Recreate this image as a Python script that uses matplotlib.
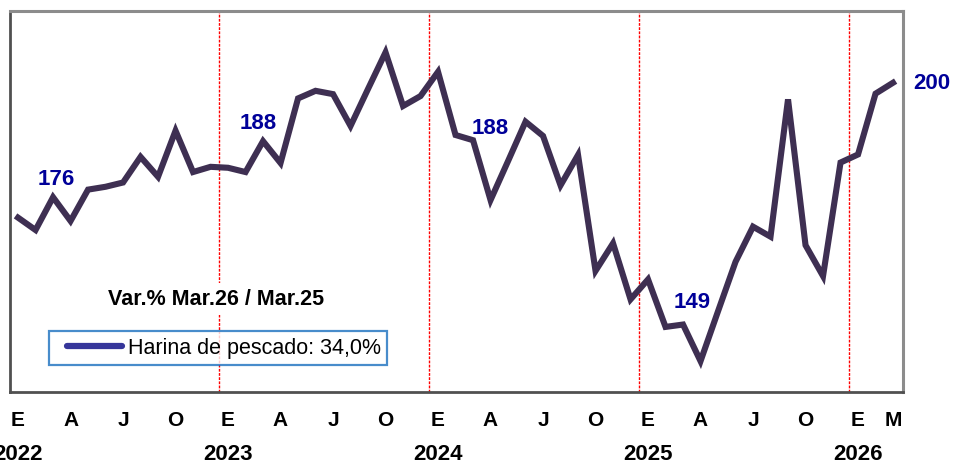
import matplotlib
matplotlib.use('Agg')
import matplotlib.pyplot as plt
from matplotlib import font_manager
from matplotlib.lines import Line2D
from matplotlib.legend_handler import HandlerLine2D

# Monthly series, Jan 2022 - Mar 2026
values = [171.9, 169.3, 176.2, 171.2, 177.8, 178.4, 179.3, 184.7, 180.5, 190.2, 181.5, 182.6,
          182.4, 181.5, 188.0, 183.4, 197.0, 198.6, 197.9, 191.2, 199.0, 206.7, 195.4, 197.5,
          202.6, 189.3, 188.2, 175.6, 183.8, 192.1, 189.1, 178.7, 185.1, 160.7, 166.5, 154.7,
          158.9, 148.9, 149.4, 141.7, 152.2, 162.6, 170.0, 167.9, 196.8, 166.1, 159.6, 183.5,
          185.2, 198.0, 200.3]
month_letters = ['E', 'F', 'M', 'A', 'M', 'J', 'J', 'A', 'S', 'O', 'N', 'D']
years = ['2022', '2023', '2024', '2025', '2026']
shown_months = [0, 3, 6, 9]              # E, A, J, O
label_idx = [2, 14, 26, 38, 50]          # March of each year
legend_label = 'Harina de pescado: 34,0%'
box_title = 'Var.% Mar.26 / Mar.25'

names = {f.name for f in font_manager.fontManager.ttflist}
narrow = 'Liberation Sans Narrow' if 'Liberation Sans Narrow' in names else 'Liberation Sans'
plt.rcParams['font.family'] = [narrow, 'DejaVu Sans']

x = list(range(len(values)))

fig = plt.figure(figsize=(9.54, 4.65), dpi=100)
ax = fig.add_axes([10 / 954, 73 / 465, 893 / 954, 381 / 465])

# year separators
for i in x:
    if i > 0 and i % 12 == 0:
        ax.axvline(i - 0.5, color='red', lw=1.0, ls=(0, (2, 1)), zorder=1)

ax.plot(x, values, color='#3e2f52', lw=4.4, solid_joinstyle='miter', zorder=3)

# value labels
offsets = [(3, 18), (-5, 18), (17, 12), (9, 22), (39, -1)]
for i, (dx, dy) in zip(label_idx, offsets):
    ax.annotate(f'{round(values[i])}', (i, values[i]), xytext=(dx, dy),
                textcoords='offset pixels', ha='center', va='center',
                fontsize=16, fontweight='bold', color='#000099', zorder=4)

ax.set_xlim(-0.46, 50.57)
ax.set_ylim(135.2, 215.4)
ax.set_yticks([])

ticks = [i for i in x if i % 12 in shown_months or i == len(values) - 1]
ax.set_xticks(ticks)
ax.set_xticklabels([month_letters[i % 12] for i in ticks], fontsize=15, fontweight='bold')
ax.tick_params(axis='x', length=0, pad=14)
for k, yr in enumerate(years):
    ax.text(12 * k, -0.163, yr, transform=ax.get_xaxis_transform(), ha='center', va='center',
            fontsize=16, fontweight='bold')

for side in ['left', 'bottom']:
    ax.spines[side].set_color('#505050')
    ax.spines[side].set_linewidth(2)
for side in ['top', 'right']:
    ax.spines[side].set_color('#8c8c8c')
    ax.spines[side].set_linewidth(2.2)

ax.text((216 - 10) / 893, (392 - 299) / 381, box_title, transform=ax.transAxes,
        ha='center', va='center', fontsize=15.5, fontweight='bold',
        bbox=dict(facecolor='white', edgecolor='none', pad=4), zorder=5)

handle = Line2D([], [], color='#36369a', lw=4.5, solid_capstyle='round')
leg = ax.legend([handle], [legend_label], loc='lower left',
                bbox_to_anchor=((49 - 10) / 893, (392 - 365) / 381), fontsize=15.5,
                frameon=True, fancybox=False, borderpad=0.3, handlelength=3.1,
                handletextpad=0.25, borderaxespad=0,
                handler_map={Line2D: HandlerLine2D(xpad=0.55)})
leg.get_frame().set_edgecolor('#1a6fbf')
leg.get_frame().set_linewidth(1.6)
leg.set_zorder(5)

fig.savefig('out.png', dpi=100)
